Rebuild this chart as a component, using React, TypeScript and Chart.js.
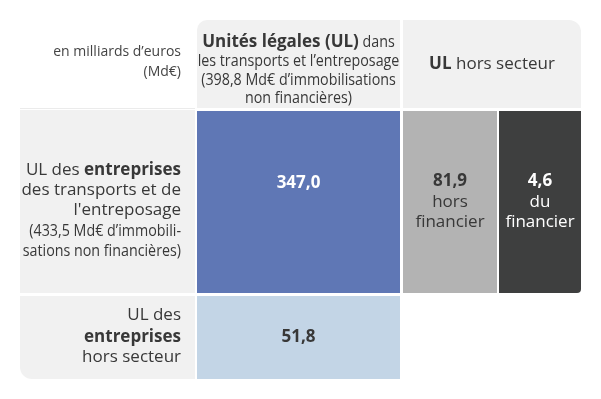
import React, { useEffect, useRef } from "react";
import { Chart, registerables } from "chart.js";

Chart.register(...registerables);

// ---- data ----
const unitLabel = ["en milliards d’euros", "(Md€)"];
const columnHeaders = [
  [
    [{ t: "Unités légales (UL)", b: true }, { t: " dans", c: true }],
    [{ t: "les transports et l’entreposage", c: true }],
    [{ t: "(398,8 Md€ d’immobilisations", c: true }],
    [{ t: "non financières)", c: true }],
  ],
  [[{ t: "UL", b: true }, { t: " hors secteur" }]],
];
const rowHeaders = [
  [
    [{ t: "UL des " }, { t: "entreprises", b: true }],
    [{ t: "des transports et de" }],
    [{ t: "l'entreposage" }],
    [{ t: "(433,5 Md€ d’immobili-", c: true }],
    [{ t: "sations non financières)", c: true }],
  ],
  [[{ t: "UL des" }], [{ t: "entreprises", b: true }], [{ t: "hors secteur" }]],
];
const cellValues = [347.0, 81.9, 4.6, 51.8];
const cellSubLabels = [[], ["hors", "financier"], ["du", "financier"], []];

// ---- layout (axis units) ----
const COLS = { lab: [20, 195], c1: [197, 400], c2: [403, 581], c2a: [403, 497], c2b: [499, 581] };
const ROWS = { head: [20, 108], r1: [111, 293], r2: [296, 379] };

const FONT = '"Open Sans", "DejaVu Sans", sans-serif';
const COND = 0.84;
const TXT = "#383838";

type Run = { t: string; b?: boolean; c?: boolean };

function drawRuns(ctx: CanvasRenderingContext2D, runs: Run[], x: number, y: number, align: string, size: number, color: string) {
  const widths = runs.map((r) => {
    ctx.font = `${r.b ? "bold " : ""}${size}px ${FONT}`;
    return ctx.measureText(r.t).width * (r.c ? COND : 1);
  });
  const total = widths.reduce((a, b) => a + b, 0);
  let cx = align === "right" ? x - total : align === "center" ? x - total / 2 : x;
  ctx.fillStyle = color;
  ctx.textBaseline = "middle";
  ctx.textAlign = "left";
  runs.forEach((r, i) => {
    ctx.font = `${r.b ? "bold " : ""}${size}px ${FONT}`;
    ctx.save();
    ctx.translate(cx, y);
    ctx.scale(r.c ? COND : 1, 1);
    ctx.fillText(r.t, 0, 0);
    ctx.restore();
    cx += widths[i];
  });
}

function rrect(ctx: CanvasRenderingContext2D, x0: number, y0: number, x1: number, y1: number, r: number[], color: string) {
  ctx.beginPath();
  (ctx as any).roundRect(x0, y0, x1 - x0, y1 - y0, r);
  ctx.fillStyle = color;
  ctx.fill();
}

const fmt = (v: number) => v.toFixed(1).replace(".", ",");

const tablePlugin = {
  id: "tablePlugin",
  beforeDraw(chart: any) {
    const ctx: CanvasRenderingContext2D = chart.ctx;
    const X = (v: number) => chart.scales.x.getPixelForValue(v);
    const Y = (v: number) => chart.scales.y.getPixelForValue(v);
    ctx.save();
    ctx.fillStyle = "#ffffff";
    ctx.fillRect(0, 0, chart.width, chart.height);

    const cell = (c: number[], r: number[], rad: number[], color: string) =>
      rrect(ctx, X(c[0]), Y(r[0]), X(c[1]), Y(r[1]), rad, color);

    const bg = "#f1f1f1";
    // header
    cell(COLS.c1, ROWS.head, [10, 0, 0, 0], bg);
    cell(COLS.c2, ROWS.head, [0, 12, 0, 0], bg);
    // row labels
    cell(COLS.lab, [ROWS.r1[0] - 1, ROWS.r1[1]], [0, 0, 0, 0], bg);
    cell(COLS.lab, ROWS.r2, [0, 0, 0, 12], bg);
    ctx.fillStyle = "#ebebeb";
    ctx.fillRect(X(COLS.lab[0]), Y(ROWS.head[1]), X(COLS.lab[1]) - X(COLS.lab[0]), 1);
    // values
    cell(COLS.c1, ROWS.r1, [0, 0, 0, 0], "#5f77b5");
    cell(COLS.c2a, ROWS.r1, [0, 0, 0, 0], "#b3b3b3");
    cell(COLS.c2b, ROWS.r1, [0, 0, 4, 0], "#3e3f3f");
    cell(COLS.c1, ROWS.r2, [0, 0, 0, 0], "#c3d5e6");

    // texts
    const labRight = X(181);
    drawRuns(ctx, [{ t: unitLabel[0] }], labRight, Y(52), "right", 14, "#444");
    drawRuns(ctx, [{ t: unitLabel[1] }], labRight, Y(72), "right", 14, "#444");

    const c1x = X((COLS.c1[0] + COLS.c1[1]) / 2);
    const h1y = [42, 61, 80, 98];
    columnHeaders[0].forEach((line, i) => drawRuns(ctx, line as Run[], c1x, Y(h1y[i]), "center", 17, TXT));
    const c2x = X((COLS.c2[0] + COLS.c2[1]) / 2);
    drawRuns(ctx, columnHeaders[1][0] as Run[], c2x, Y(64), "center", 17, TXT);

    const r1y = [170, 190, 210, 231, 251];
    rowHeaders[0].forEach((line, i) => drawRuns(ctx, line as Run[], labRight, Y(r1y[i]), "right", 17, TXT));
    const r2y = [315, 337, 357];
    rowHeaders[1].forEach((line, i) => drawRuns(ctx, line as Run[], labRight, Y(r2y[i]), "right", 17, TXT));

    // value cells
    const cellDefs = [
      { c: COLS.c1, r: ROWS.r1, color: "#ffffff", y: 183 },
      { c: COLS.c2a, r: ROWS.r1, color: TXT, y: 181 },
      { c: COLS.c2b, r: ROWS.r1, color: "#ffffff", y: 181 },
      { c: COLS.c1, r: ROWS.r2, color: TXT, y: 337 },
    ];
    cellValues.forEach((v, i) => {
      const d = cellDefs[i];
      const cx = X((d.c[0] + d.c[1]) / 2);
      drawRuns(ctx, [{ t: fmt(v), b: true }], cx, Y(d.y), "center", 17, d.color);
      cellSubLabels[i].forEach((s, j) => drawRuns(ctx, [{ t: s }], cx, Y(d.y + 21 + j * 20), "center", 17, d.color));
    });
    ctx.restore();
  },
};

export default function App() {
  const ref = useRef<HTMLCanvasElement>(null);
  useEffect(() => {
    document.body.style.margin = "0";
    const chart = new Chart(ref.current!, {
      type: "scatter",
      data: { datasets: [{ data: [] }] },
      options: {
        animation: false,
        responsive: false,
        layout: { padding: 0 },
        plugins: { legend: { display: false }, tooltip: { enabled: false } },
        scales: {
          x: { type: "linear", min: 0, max: 601, display: false },
          y: { type: "linear", min: 0, max: 399, reverse: true, display: false },
        },
      },
      plugins: [tablePlugin],
    });
    return () => chart.destroy();
  }, []);
  return <canvas ref={ref} width={601} height={399} style={{ display: "block" }} />;
}
